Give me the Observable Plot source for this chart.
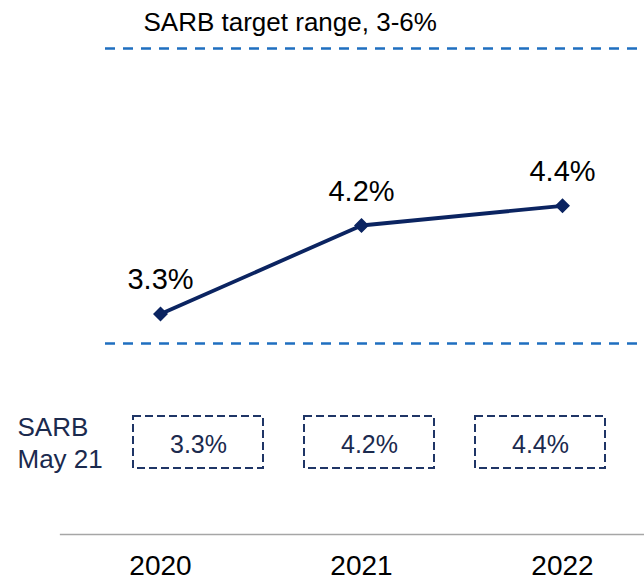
<!DOCTYPE html>
<html>
<head>
<meta charset="utf-8">
<script src="https://cdn.jsdelivr.net/npm/d3@7"></script>
<script src="https://cdn.jsdelivr.net/npm/@observablehq/plot@0.6"></script>
<style>
  html, body { margin: 0; padding: 0; background: #fff; }
  #wrap { position: relative; width: 644px; height: 580px; overflow: hidden; }
  #wrap svg { position: absolute; left: 0; overflow: visible; }
</style>
</head>
<body>
<div id="wrap"></div>
<script>
// ---- data ----
const years = ["2020", "2021", "2022"];
const forecast = [3.3, 4.2, 4.4];          // line values
const sarbMay21 = [3.3, 4.2, 4.4];         // boxed SARB May 21 values
const targetRange = [3, 6];                // SARB target band
const titleText = "SARB target range, 3-6%";
const rowLabel = "SARB\nMay 21";

const fc = years.map((y, i) => ({year: y, value: forecast[i]}));
const sarb = years.map((y, i) => ({year: y, value: sarbMay21[i]}));

const FONT = "'Liberation Sans', Arial, sans-serif";
const NAVY = "#0b2461";
const BLUE = "#1f6fc0";
const BOXNAVY = "#1f3566";

const main = Plot.plot({
  width: 644,
  height: 580,
  marginTop: 0,
  marginLeft: 60,
  marginRight: 0,
  marginBottom: 46,
  style: {fontFamily: FONT, fontSize: "28px", color: "#000", background: "transparent"},
  x: {type: "point", domain: years, range: [160, 562], padding: 0, label: null},
  y: {domain: [3, 6], range: [343, 48], axis: null},
  marks: [
    Plot.frame({anchor: "bottom", stroke: "#a6a6a6", strokeWidth: 1.3}),
    Plot.axisX({tickSize: 0, tickPadding: 21, label: null, fontSize: 28, fill: "#000"}),
    Plot.ruleY(targetRange, {stroke: BLUE, strokeWidth: 2.5, strokeDasharray: "10,8", insetLeft: 45}),
    Plot.text([titleText], {frameAnchor: "top-left", dx: 83, dy: 12, textAnchor: "start", lineAnchor: "top", fontSize: 26, fill: "#000"}),
    Plot.line(fc, {x: "year", y: "value", stroke: NAVY, strokeWidth: 3.8}),
    Plot.dot(fc, {x: "year", y: "value", symbol: "diamond2", r: 5.8, fill: NAVY, stroke: NAVY}),
    Plot.text(fc, {x: "year", y: "value", text: d => d.value.toFixed(1) + "%", lineAnchor: "bottom", dy: -25, fontSize: 29, fill: "#000"})
  ]
});
main.style.top = "0px";

const boxes = Plot.plot({
  width: 644,
  height: 94,
  marginTop: 21,
  marginBottom: 21,
  marginLeft: 0,
  marginRight: 0,
  style: {fontFamily: FONT, fontSize: "25px", background: "transparent"},
  x: {type: "band", domain: years, range: [132, 605], paddingInner: 0.242, paddingOuter: 0, axis: null},
  marks: [
    Plot.cell(sarb, {x: "year", fill: "none", stroke: BOXNAVY, strokeWidth: 2, strokeDasharray: "8,4", inset: 0}),
    Plot.text(sarb, {x: "year", text: d => d.value.toFixed(1) + "%", fontSize: 25, fill: "#1b2a4e", dy: 2}),
    Plot.text([rowLabel], {frameAnchor: "left", dx: 17, textAnchor: "start", lineAnchor: "middle", lineHeight: 1.23, fontSize: 26, fill: "#1b2a4e", dy: -1})
  ]
});
boxes.style.top = "395px";

const wrap = document.getElementById("wrap");
wrap.appendChild(main);
wrap.appendChild(boxes);
</script>
</body>
</html>
